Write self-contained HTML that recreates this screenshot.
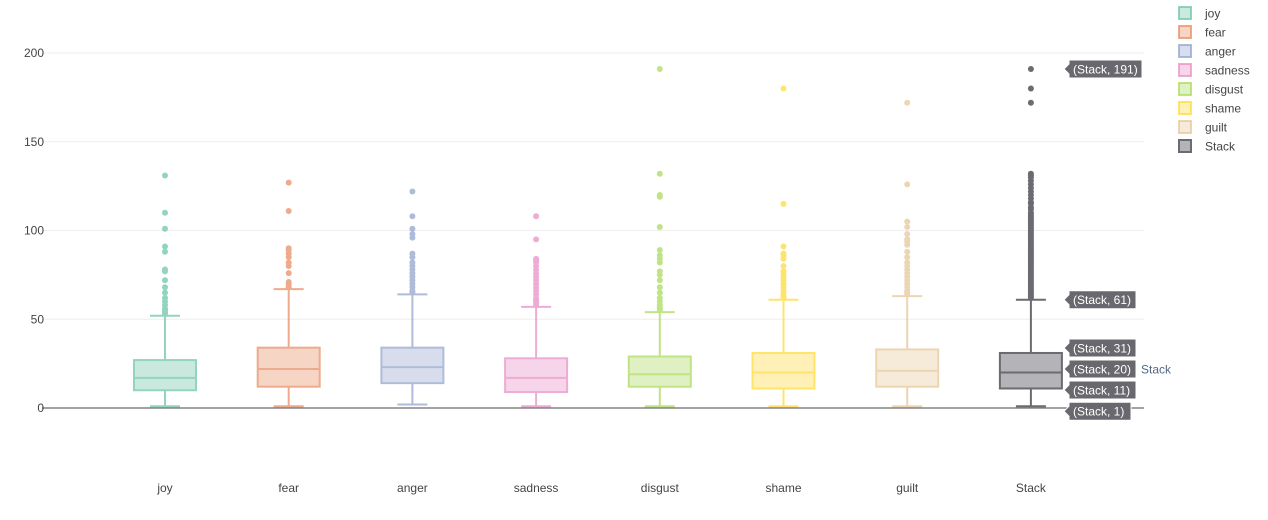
<!DOCTYPE html>
<html><head><meta charset="utf-8"><style>
body{margin:0;background:#fff;font-family:"Liberation Sans",Arial,sans-serif;}
svg text{font-family:"Liberation Sans",Arial,sans-serif;}
</style></head><body>
<svg id="chart" width="1268" height="515" xmlns="http://www.w3.org/2000/svg">
<g id="grid"></g><g id="boxes"></g><g id="hover"></g><g id="legend"></g>
</svg>
<script>
const categories=["joy","fear","anger","sadness","disgust","shame","guilt","Stack"];
const colors=["#66c2a5","#e8875c","#8da0cb","#e78ac3","#a6d854","#ffd92f","#e5c494","#6b6b70"];
const q1=[10,12,14,9,12,11,12,11];
const medians=[17,22,23,17,19,20,21,20];
const q3=[27,34,34,28,29,31,33,31];
const upperFence=[52,67,64,57,54,61,63,61];
const lowerFence=[1,1,2,1,1,1,1,1];
const outliers=[
[131,110,101,91,88,78,77,72,68,65,62,60,58,56,55,54,53],
[127,111,90,89,87,85,82,80,76,71,70,69,68],
[122,108,101,98,96,87,85,82,80,78,76,74,72,70,68,66,65],
[108,95,84,83,82,80,78,76,74,72,70,68,66,64,62,61,60,59,58],
[191,132,120,119,102,89,86,84,82,77,75,72,68,65,62,60,58,57,56,55],
[180,115,91,87,86,84,80,77,75,73,72,70,68,66,64,63,62],
[172,126,105,102,98,95,94,92,88,85,82,80,78,76,74,72,70,68,66,65,64],
[191,180,172,132,131,130,128,126,124,122,120,118,116,115,113,112,110,109,108,107,106,105,104,103,102,101,100,99,98,97,96,95,94,93,92,91,90,89,88,87,86,85,84,83,82,81,80,79,78,77,76,75,74,73,72,71,70,69,68,67,66,65,64,63,62]
];
const yTicks=[0,50,100,150,200];
const hoverVals=[191,61,31,20,11,1];
const hoverOffsets=[0,0,-5,-3.5,1.5,5];
const NS="http://www.w3.org/2000/svg";
const y=v=>408-v*1.775;
const x=i=>165+i*123.7;
function mk(tag,attrs,parent,txt){const e=document.createElementNS(NS,tag);for(const k in attrs)e.setAttribute(k,attrs[k]);if(txt!==undefined)e.textContent=txt;parent.appendChild(e);return e;}
const grid=document.getElementById('grid');
yTicks.forEach(t=>{
 const l=mk('line',{x1:42,x2:1144,y1:y(t),y2:y(t),stroke:t===0?'#444':'#eee','stroke-width':1},grid);
 
 
 const tx=mk('text',{x:44,y:y(t)+4,'text-anchor':'end','font-size':12,fill:'#444'},grid,String(t));
 
 
});
const boxes=document.getElementById('boxes');
categories.forEach((c,i)=>{
 const stack=c==="Stack";
 const g=mk('g',{opacity:stack?1:0.7},boxes);
 
 
 const col=colors[i],cx=x(i),w=31,cw=15;
 mk('line',{x1:cx,x2:cx,y1:y(upperFence[i]),y2:y(q3[i]),stroke:col,'stroke-width':2},g);
 mk('line',{x1:cx,x2:cx,y1:y(q1[i]),y2:y(lowerFence[i]),stroke:col,'stroke-width':2},g);
 mk('line',{x1:cx-cw,x2:cx+cw,y1:y(upperFence[i]),y2:y(upperFence[i]),stroke:col,'stroke-width':2},g);
 mk('line',{x1:cx-cw,x2:cx+cw,y1:y(lowerFence[i]),y2:y(lowerFence[i]),stroke:col,'stroke-width':2},g);
 mk('rect',{x:cx-w,y:y(q3[i]),width:2*w,height:y(q1[i])-y(q3[i]),fill:stack?'#b4b4b8':col,'fill-opacity':stack?1:0.5,stroke:col,'stroke-width':2},g);
 mk('line',{x1:cx-w,x2:cx+w,y1:y(medians[i]),y2:y(medians[i]),stroke:col,'stroke-width':2},g);
 outliers[i].forEach(v=>{
  const p=mk('circle',{cx:cx,cy:y(v),r:3,fill:col},g);
  
  
 });
 const lbl=mk('text',{x:cx,y:492,'text-anchor':'middle','font-size':12,fill:'#444'},boxes,c);
 
 
});
const hover=document.getElementById('hover');
hoverVals.forEach((v,k)=>{
 const yy=y(v)+hoverOffsets[k],x0=1069,txt='(Stack, '+v+')',w=v>=100?73:(v>=10?67:62);
 const hg=mk('g',{},hover);
 
 
 mk('path',{d:`M${x0-5},${yy} L${x0},${yy-5} L${x0},${yy-9} L${x0+w},${yy-9} L${x0+w},${yy+9} L${x0},${yy+9} L${x0},${yy+5} Z`,fill:'#68686e',stroke:'#fff','stroke-width':1},hg);
 mk('text',{x:x0+4,y:yy+4.5,'font-size':12,fill:'#fff'},hg,txt);
});
const st=mk('text',{x:1141,y:y(20)+1,'font-size':12,fill:'#506784'},hover,'Stack');


const leg=document.getElementById('legend');
categories.forEach((c,i)=>{
 const yy=13+i*19,stack=c==="Stack";
 const g=mk('g',{},leg);
 
 
 mk('rect',{x:1179,y:yy-6,width:12,height:12,fill:stack?'#b4b4b8':colors[i],'fill-opacity':stack?1:0.35,stroke:colors[i],'stroke-opacity':stack?1:0.7,'stroke-width':2},g);
 mk('text',{x:1205,y:yy+4.5,'font-size':12,fill:'#444'},g,c);
});
</script>
</body></html>
